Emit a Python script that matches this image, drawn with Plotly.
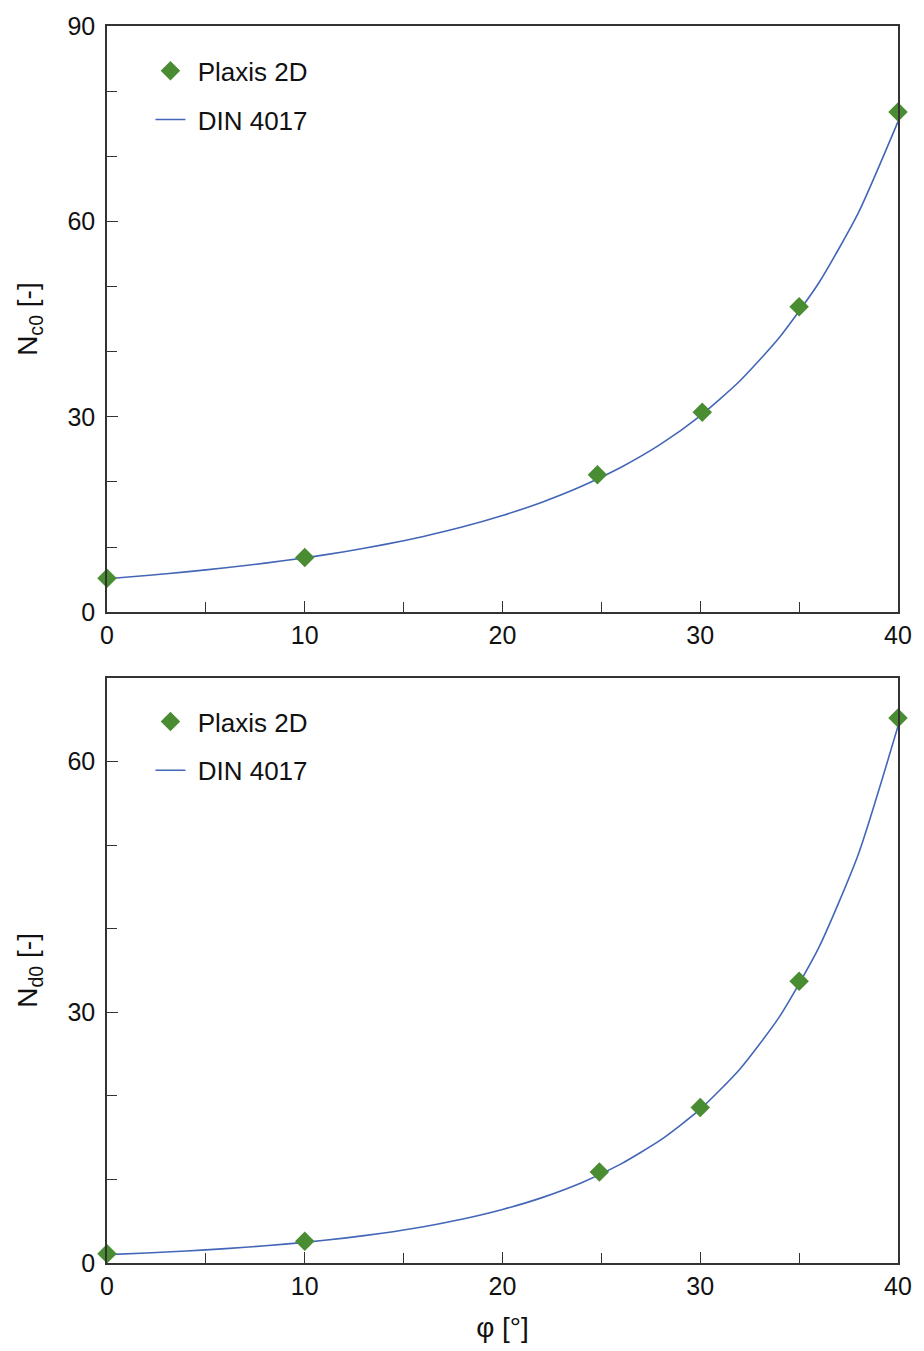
import plotly.graph_objects as go
from plotly.subplots import make_subplots

# DIN 4017 curve values
phi_din = [0, 2, 4, 6, 8, 10, 12, 14, 16, 18, 20, 22, 24, 26, 28, 30, 32, 34, 36, 38, 40]
nc0_din = [5.14, 5.63, 6.19, 6.81, 7.53, 8.34, 9.28, 10.37, 11.63, 13.10, 14.84, 16.88,
           19.32, 22.26, 25.80, 30.14, 35.49, 42.16, 50.58, 61.35, 75.32]
nd0_din = [1.00, 1.20, 1.43, 1.72, 2.06, 2.47, 2.97, 3.59, 4.34, 5.26, 6.40, 7.82,
           9.60, 11.86, 14.72, 18.40, 23.18, 29.44, 37.75, 48.93, 64.20]

# Plaxis 2D results
phi_plx_c = [0, 10, 24.8, 30.1, 35, 40]
nc0_plx = [5.2, 8.4, 21.1, 30.7, 46.9, 76.8]
phi_plx_d = [0, 10, 24.9, 30, 35, 40]
nd0_plx = [1.1, 2.6, 10.9, 18.6, 33.7, 65.2]

GREEN = "#4a8c32"
BLUE = "#4466b8"
FONT = "Arial, 'Liberation Sans', sans-serif"
TXT = "#111111"

fig = make_subplots(rows=2, cols=1)

fig.add_trace(go.Scatter(x=phi_din, y=nc0_din, mode="lines", name=" DIN 4017",
                         line=dict(color=BLUE, width=1.6, shape="spline", smoothing=0.6),
                         legend="legend2"), row=1, col=1)
fig.add_trace(go.Scatter(x=phi_plx_c, y=nc0_plx, mode="markers", name=" Plaxis 2D",
                         marker=dict(symbol="diamond", size=15, color=GREEN),
                         cliponaxis=False, legend="legend"), row=1, col=1)
fig.add_trace(go.Scatter(x=phi_din, y=nd0_din, mode="lines", name=" DIN 4017",
                         line=dict(color=BLUE, width=1.6, shape="spline", smoothing=0.6),
                         legend="legend4"), row=2, col=1)
fig.add_trace(go.Scatter(x=phi_plx_d, y=nd0_plx, mode="markers", name=" Plaxis 2D",
                         marker=dict(symbol="diamond", size=15, color=GREEN),
                         cliponaxis=False, legend="legend3"), row=2, col=1)

axis_common = dict(showline=True, linecolor="#333333", linewidth=1.5, mirror=True,
                   ticks="inside", ticklen=11, tickwidth=1.3, tickcolor="#333333",
                   showgrid=False, zeroline=False,
                   tickfont=dict(family=FONT, size=25, color=TXT))
minor_common = dict(ticks="inside", ticklen=10, tickwidth=1.3, tickcolor="#333333")

top_dom = [(1263 - 609) / 1243, 1.0]
bot_dom = [0.0, (1263 - 675) / 1243]

fig.update_layout(
    xaxis=dict(range=[0, 40], dtick=10, tick0=0, minor=dict(dtick=5, **minor_common),
               anchor="y", **axis_common),
    xaxis2=dict(range=[0, 40], dtick=10, tick0=0, minor=dict(dtick=5, **minor_common),
                anchor="y2",
                title=dict(text="φ [°]", font=dict(family=FONT, size=28, color=TXT), standoff=19),
                **axis_common),
    yaxis=dict(range=[0, 90], dtick=30, tick0=0, domain=top_dom, ticklabelstandoff=5,
               minor=dict(dtick=10, **minor_common),
               title=dict(text="N<sub>c0</sub> [-]", font=dict(family=FONT, size=28, color=TXT), standoff=22),
               **axis_common),
    yaxis2=dict(range=[0, 70], dtick=30, tick0=0, domain=bot_dom, ticklabelstandoff=5,
                minor=dict(dtick=10, **minor_common),
                title=dict(text="N<sub>d0</sub> [-]", font=dict(family=FONT, size=28, color=TXT), standoff=22),
                **axis_common),
)

leg_common = dict(font=dict(family=FONT, size=26, color=TXT), bgcolor="rgba(0,0,0,0)",
                  xanchor="left", yanchor="middle", borderwidth=0)


def ypos(px):
    return (1263 - px) / 1243


LX = (151 - 107) / 801
fig.update_layout(
    legend=dict(x=LX, y=ypos(65), **leg_common),
    legend2=dict(x=LX, y=ypos(114), **leg_common),
    legend3=dict(x=LX, y=ypos(719), **leg_common),
    legend4=dict(x=LX, y=ypos(768), **leg_common),
    width=924, height=1351,
    margin=dict(l=107, r=16, t=20, b=88),
    plot_bgcolor="white", paper_bgcolor="white",
    showlegend=True,
)

fig.write_html("out.html")
